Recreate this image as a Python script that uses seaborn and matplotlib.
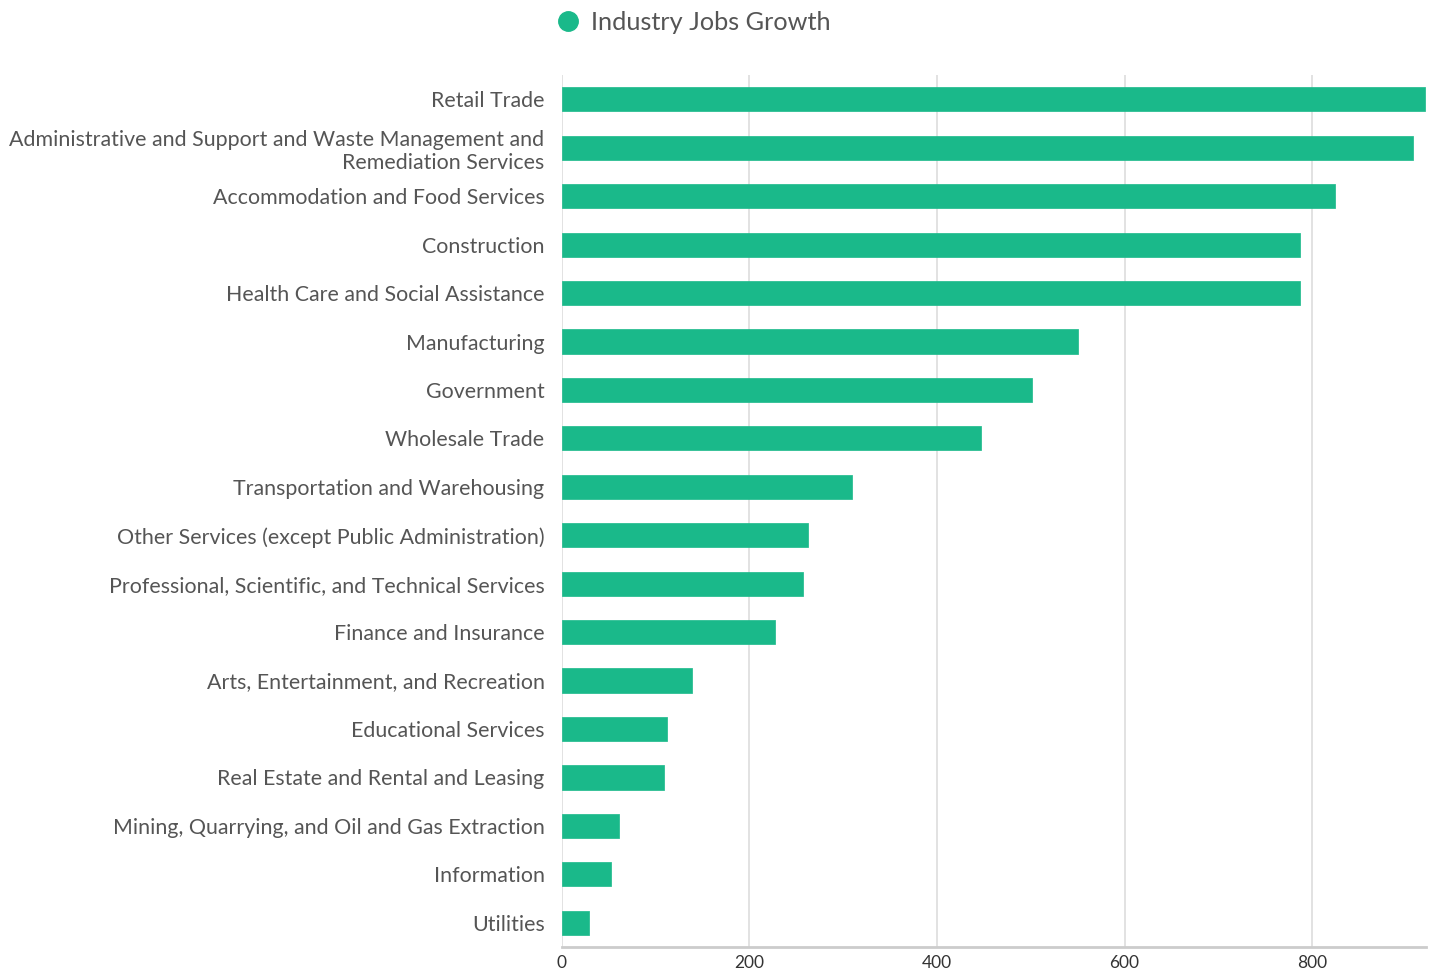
import matplotlib
matplotlib.use("Agg")
import matplotlib.pyplot as plt
import seaborn as sns
import pandas as pd
from matplotlib.lines import Line2D

industries = [
    "Retail Trade",
    "Administrative and Support and Waste Management and\nRemediation Services",
    "Accommodation and Food Services",
    "Construction",
    "Health Care and Social Assistance",
    "Manufacturing",
    "Government",
    "Wholesale Trade",
    "Transportation and Warehousing",
    "Other Services (except Public Administration)",
    "Professional, Scientific, and Technical Services",
    "Finance and Insurance",
    "Arts, Entertainment, and Recreation",
    "Educational Services",
    "Real Estate and Rental and Leasing",
    "Mining, Quarrying, and Oil and Gas Extraction",
    "Information",
    "Utilities",
]
jobs_growth = [921, 908, 825, 787, 787, 550, 501, 447, 309, 262, 257, 227, 139, 112, 109, 61, 52, 29]
x_ticks = [0, 200, 400, 600, 800]
series_name = "Industry Jobs Growth"

df = pd.DataFrame({"industry": industries, "growth": jobs_growth})

sns.set_theme(style="white")
plt.rcParams["font.family"] = ["Lato", "DejaVu Sans"]

GREEN = "#1ab98a"
TEXT = "#555555"
GRID = "#dddddd"

fig = plt.figure(figsize=(14.39, 9.75), dpi=100)
ax = fig.add_axes([0.3905, 0.0287, 0.6005, 0.8943])

sns.barplot(data=df, y="industry", x="growth", orient="h", color=GREEN,
            width=0.5, saturation=1, ax=ax, zorder=3)
for p in ax.patches:
    p.set_edgecolor(GREEN)
    p.set_linewidth(0.5)
    p.set_joinstyle("round")

ax.set_xlim(0, 921.6)
ax.set_ylim(len(industries) - 0.5, -0.5)
ax.set_xticks(x_ticks)
ax.set_xticklabels([str(t) for t in x_ticks])
ax.set_xlabel("")
ax.set_ylabel("")

ax.xaxis.grid(True, color=GRID, linewidth=1.2, zorder=0)
ax.yaxis.grid(False)
for s in ["top", "right", "left"]:
    ax.spines[s].set_visible(False)
ax.spines["bottom"].set_color("#cccccc")
ax.spines["bottom"].set_linewidth(2)

ax.tick_params(axis="y", length=0, pad=12.5, labelsize=15.4, labelcolor=TEXT)
ax.tick_params(axis="x", length=0, pad=6, labelsize=12.5, labelcolor="#333333")
for lab in ax.get_yticklabels():
    lab.set_multialignment("right")
    lab.set_linespacing(1.2)

handle = Line2D([0], [0], marker="o", linestyle="", markersize=14,
                markerfacecolor=GREEN, markeredgecolor=GREEN)
fig.legend([handle], [series_name], loc="upper center",
           bbox_to_anchor=(0.4805, 1.012), frameon=False,
           fontsize=18.2, labelcolor=TEXT, handletextpad=0.3,
           handlelength=1.2)

fig.savefig("out.png", dpi=100)
